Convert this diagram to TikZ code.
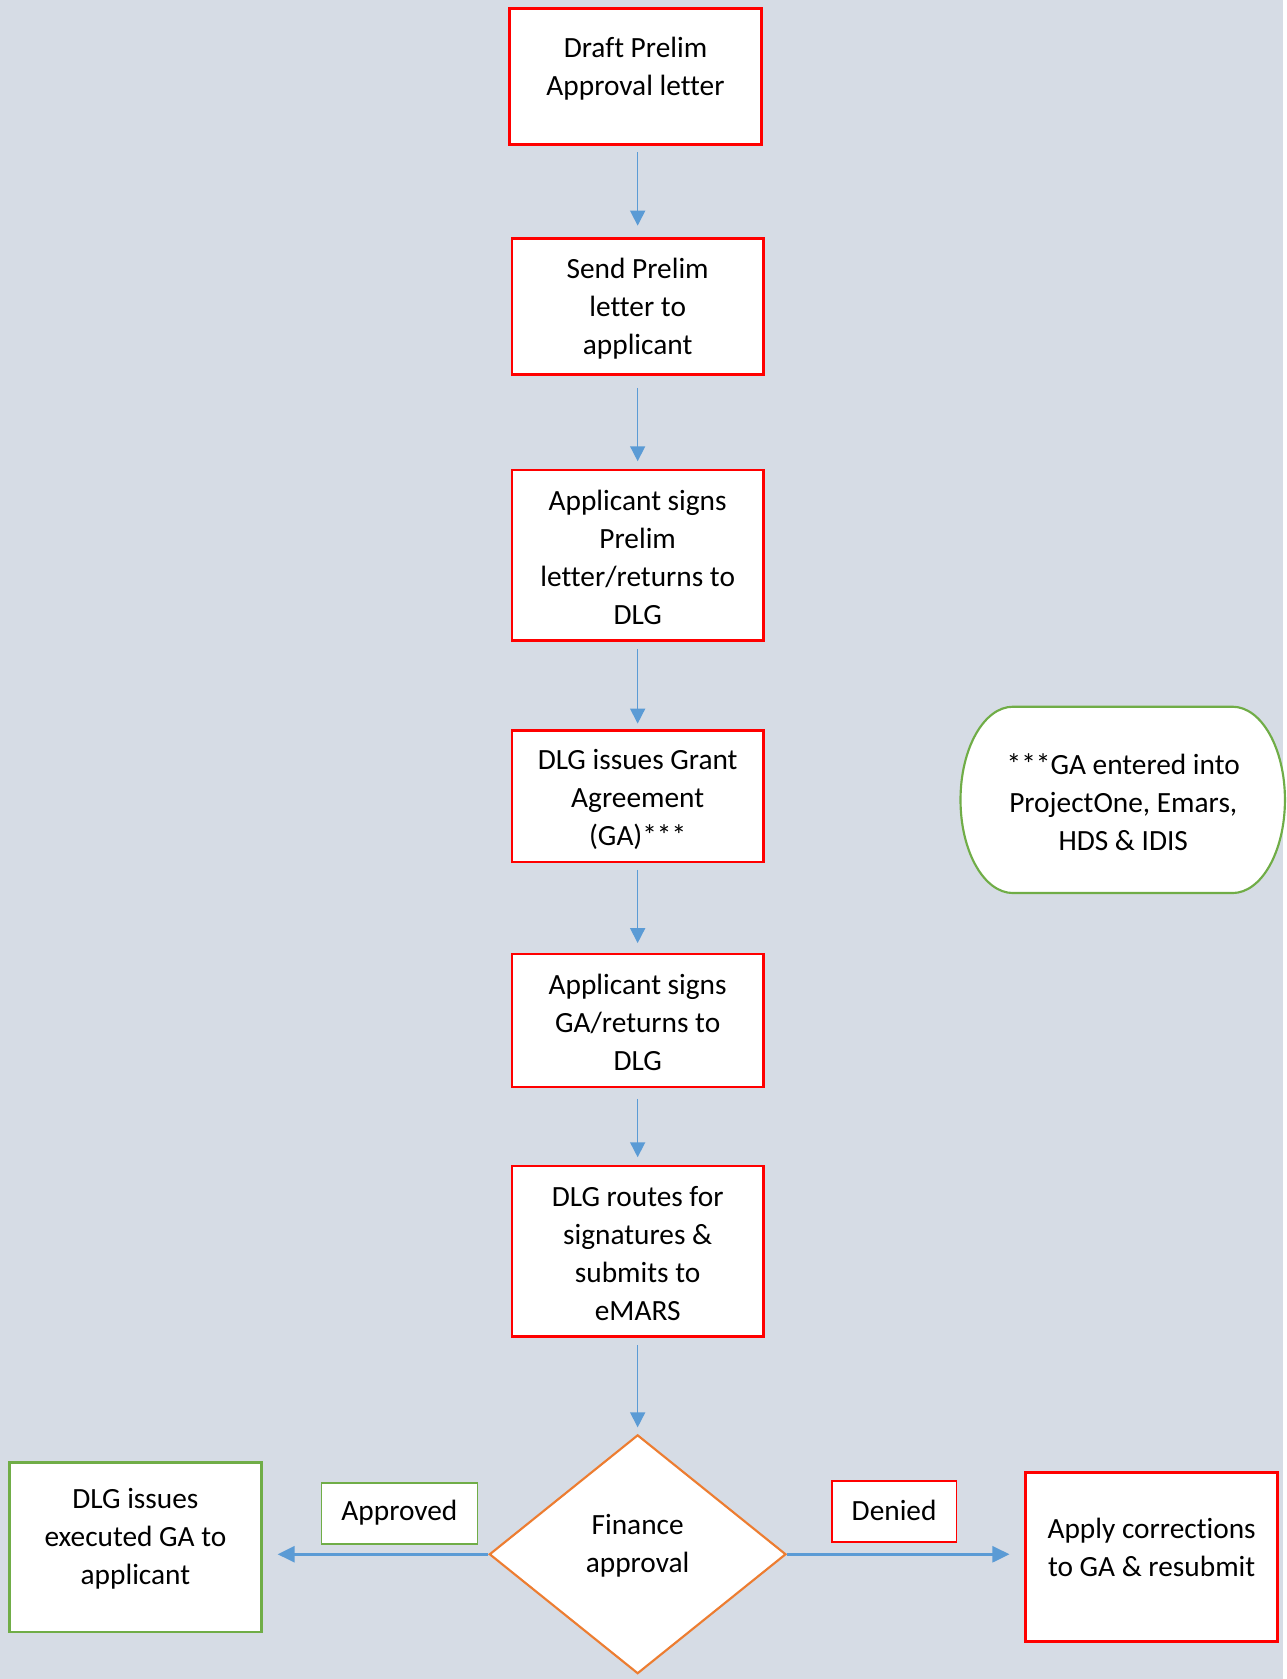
\documentclass[tikz,border=0pt]{standalone}
\usepackage{fontspec}
\setmainfont[Ligatures=NoCommon]{Carlito}
\usepackage{tikz}
\usetikzlibrary{arrows.meta}
\usetikzlibrary{shapes.geometric}
\definecolor{bgcol}{HTML}{D6DCE5}
\definecolor{boxred}{HTML}{FF0000}
\definecolor{boxgreen}{HTML}{70AD47}
\definecolor{dorange}{HTML}{ED7D31}
\definecolor{arrowblue}{HTML}{5B9BD5}

\begin{document}
\begin{tikzpicture}[x=0.5pt,y=-0.5pt]
\tikzset{>={Triangle[width=7pt,length=7pt]}}
\tikzstyle{stepbox} =[rectangle, draw = boxred, fill = white, line width=1.25pt, minimum width=117.5pt, inner sep=0pt]
\tikzstyle{steptext} =[align=center, font=\fontsize{13.7pt}{17.75pt}\selectfont, inner sep=0pt]
\tikzstyle{tagbox} =[rectangle, fill = white, line width=0.6pt, minimum height=28.5pt, inner sep=0pt]
\tikzstyle{flow} =[->, draw = arrowblue, line width=0.75pt]

% background
\fill[bgcol] (0,0) rectangle (1198,1568);

% main column
\node[stepbox,minimum height=63.5pt](draft) at (593.5,71.5){};
\node[steptext](draftt) at (593.5,64){Draft Prelim\\Approval letter};
\node[stepbox,minimum height=63.5pt](send) at (595.5,286.5){};
\node[steptext](sendt) at (595.5,288){Send Prelim\\letter to\\applicant};
\node[stepbox,minimum height=79.5pt](signs) at (595.5,518.5){};
\node[steptext](signst) at (595.5,521){Applicant signs\\Prelim\\letter/returns to\\DLG};
\node[stepbox,minimum height=61.5pt](issues) at (595.5,743.5){};
\node[steptext](issuest) at (595.5,746.5){DLG issues Grant\\Agreement\\(GA)***};
\node[stepbox,minimum height=62pt](signga) at (595.5,953){};
\node[steptext](signgat) at (595.5,955){Applicant signs\\GA/returns to\\DLG};
\node[stepbox,minimum height=79.5pt](routes) at (595.5,1168.5){};
\node[steptext](routest) at (595.5,1170.5){DLG routes for\\signatures \&\\submits to\\eMARS};

% decision
\node[diamond, draw = dorange, fill = white, line width=1pt, minimum width=138.5pt, minimum height=111.5pt, inner sep=0pt](fin) at (595.5,1451.5){};
\node[steptext](fint) at (595.5,1443.5){Finance\\approval};

% outcomes
\node[stepbox,draw=boxgreen,minimum height=79pt](exec) at (126.5,1445){};
\node[steptext](exect) at (126.5,1437){DLG issues\\executed GA to\\applicant};
\node[stepbox,minimum height=79pt](fix) at (1075.5,1454){};
\node[steptext](fixt) at (1075.5,1445.5){Apply corrections\\to GA \& resubmit};

\node[tagbox,draw=boxgreen,minimum width=73pt](appr) at (373,1413.5){};
\node[steptext](apprt) at (373,1413){Approved};
\node[tagbox,draw=boxred,minimum width=58pt](den) at (835,1411.5){};
\node[steptext](dent) at (835,1411){Denied};

% note on the side
\node[minimum width=151.5pt, minimum height=87pt, inner sep=0pt](note) at (1048.5,747){};
\draw[boxgreen, fill=white, line width=1pt] (946,660) -- (1151,660)
  arc[start angle=-90, end angle=90, x radius=49, y radius=87]
  -- (946,834)
  arc[start angle=90, end angle=270, x radius=49, y radius=87] -- cycle;
\node[steptext](notet) at (1049,749){***GA entered into\\ProjectOne, Emars,\\HDS \& IDIS};

% connectors
\draw [flow,shorten <=3pt,shorten >=5.5pt] (draft.south -| send) -- (send);
\draw [flow,shorten <=5.5pt,shorten >=3.5pt] (send) -- (signs);
\draw [flow,shorten <=3.5pt,shorten >=2.5pt] (signs) -- (issues);
\draw [flow,shorten <=3pt,shorten >=4.5pt] (issues) -- (signga);
\draw [flow,shorten <=5pt,shorten >=3.5pt] (signga) -- (routes);
\draw [flow,shorten <=3.5pt,shorten >=3pt] (routes) -- (fin);
\draw [flow,line width=1.25pt,>={Triangle[width=7.5pt,length=8pt]},shorten >=7pt] (fin.west) -- (exec.east |- fin.west);
\draw [flow,line width=1.25pt,>={Triangle[width=7.5pt,length=8pt]},shorten >=7pt] (fin.east) -- (fix.west |- fin.east);
\end{tikzpicture}
\end{document}
